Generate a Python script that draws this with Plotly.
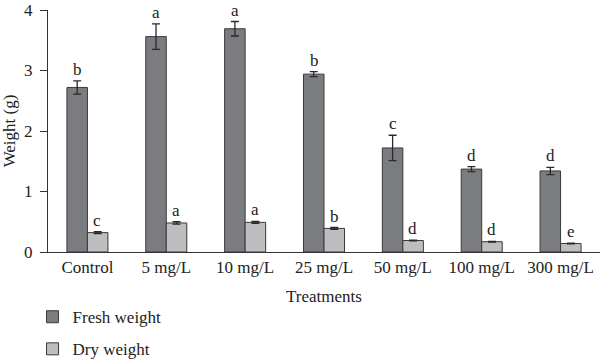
import plotly.graph_objects as go

categories = ["Control", "5 mg/L", "10 mg/L", "25 mg/L", "50 mg/L", "100 mg/L", "300 mg/L"]
fresh = [2.72, 3.56, 3.69, 2.94, 1.72, 1.37, 1.34]
fresh_err = [0.11, 0.21, 0.12, 0.04, 0.21, 0.04, 0.06]
dry = [0.32, 0.48, 0.49, 0.39, 0.19, 0.17, 0.14]
dry_err = [0.015, 0.02, 0.015, 0.015, 0.005, 0.005, 0.005]
fresh_letters = ["b", "a", "a", "b", "c", "d", "d"]
dry_letters = ["c", "a", "a", "b", "d", "d", "e"]

FONT = "Liberation Serif"
FS = 17
fig = go.Figure()
fig.add_trace(go.Bar(
    x=categories, y=fresh, name="Fresh weight", legendgroup="f",
    marker=dict(color="#7b7c80", line=dict(color="#3a3a3a", width=1)),
    error_y=dict(type="data", array=fresh_err, color="#2a2a2a", thickness=1.3, width=4),
))
fig.add_trace(go.Bar(
    x=categories, y=dry, name="Dry weight", legendgroup="d",
    marker=dict(color="#bdbec0", line=dict(color="#3a3a3a", width=1)),
    error_y=dict(type="data", array=dry_err, color="#2a2a2a", thickness=1.3, width=4),
))

for i, c in enumerate(categories):
    fig.add_annotation(x=c, y=fresh[i] + fresh_err[i], text=fresh_letters[i], xref="x", yref="y",
                       xshift=-10, yshift=0, yanchor="bottom", showarrow=False,
                       font=dict(family=FONT, size=FS, color="#222"))
    fig.add_annotation(x=c, y=dry[i] + dry_err[i], text=dry_letters[i], xref="x", yref="y",
                       xshift=10, yshift=0, yanchor="bottom", showarrow=False,
                       font=dict(family=FONT, size=FS, color="#222"))

fig.update_layout(
    width=600, height=362,
    margin=dict(l=48, r=0, t=10, b=110, autoexpand=False),
    paper_bgcolor="white", plot_bgcolor="white",
    barmode="group", bargap=0.48, bargroupgap=0,
    font=dict(family=FONT, size=FS, color="#222"),
    showlegend=True,
    legend=dict(orientation="v", x=-0.028, y=-0.195, xanchor="left", yanchor="top",
                tracegroupgap=7, font=dict(family=FONT, size=FS, color="#222"),
                itemwidth=30, traceorder="grouped"),
    xaxis=dict(showline=True, linecolor="#333", linewidth=1, ticks="", showgrid=False,
               automargin=False,
               title=dict(text="Treatments", font=dict(family=FONT, size=FS), standoff=13),
               tickfont=dict(family=FONT, size=FS)),
    yaxis=dict(range=[0, 4], tickvals=[0, 1, 2, 3, 4], showline=True, linecolor="#333", linewidth=1,
               ticks="outside", ticklen=7, tickcolor="#333", showgrid=False, zeroline=False,
               automargin=False, ticklabelstandoff=4, ticklabeloverflow="allow",
               title=dict(text="Weight (g)", font=dict(family=FONT, size=FS), standoff=8),
               tickfont=dict(family=FONT, size=FS)),
)

# remove the browser's default 8px body margin so the figure fills the window exactly
fig.write_html("out.html", config={"displayModeBar": False},
               post_script="document.body.style.margin='0';")
